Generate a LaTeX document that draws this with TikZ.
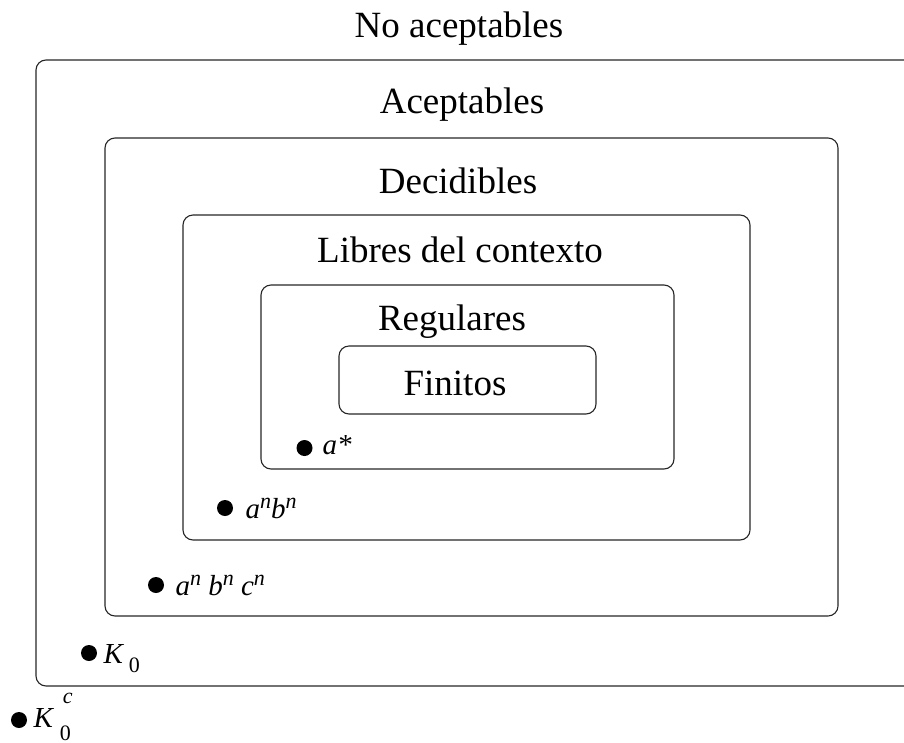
\documentclass[tikz,border=0pt]{standalone}
\usepackage{fontspec}
\setmainfont{Liberation Serif}
\usepackage{tikz}

% small raised / lowered pieces for the set labels
\newcommand{\upx}[2][10pt]{\raisebox{#1}{\fontsize{22}{26}\selectfont\itshape #2}}
\newcommand{\dnx}[2][-9pt]{\raisebox{#1}{\fontsize{22}{26}\selectfont\upshape #2}}

\begin{document}
\begin{tikzpicture}[x=1pt, y=-1pt, line width=1.1pt, line join=round,
  setbox/.style={draw=black!85, rounded corners=10pt},
  title/.style={anchor=base, inner sep=0pt, font=\fontsize{37}{43}\selectfont},
  elem/.style={circle, fill=black, inner sep=0pt, minimum size=16pt},
  elemtxt/.style={anchor=base west, inner sep=0pt, font=\fontsize{29}{35}\selectfont\itshape}]

  %% ════ nested classes ════
  \draw[setbox] (36,60) rectangle (930,686);
  \draw[setbox] (105,138) rectangle (838,616);
  \draw[setbox] (183,215) rectangle (750,540);
  \draw[setbox] (261,285) rectangle (674,469);
  \draw[setbox] (339,346) rectangle (596,414);

  %% ════ class names ════
  \node[title] (noacep) at (459,37) {No aceptables};
  \node[title] (acep)   at (462,113) {Aceptables};
  \node[title] (decid)  at (458,193) {Decidibles};
  \node[title] (libres) at (460,262) {Libres del contexto};
  \node[title] (regul)  at (452,330) {Regulares};
  \node[title] (finit)  at (455,395) {Finitos};

  %% ════ sample languages ════
  \node[elem] (dotastar) at (304.5,448) {};
  \node[elemtxt] (astar) at (322,454) {a*};

  \node[elem] (dotanbn) at (225,508) {};
  \node[elemtxt] (anbn) at (245,518) {a\upx{n}b\upx{n}};

  \node[elem] (dotanbncn) at (156,585) {};
  \node[elemtxt] (anbncn) at (175,595) {a\upx{n} b\upx{n} c\upx{n}};

  \node[elem] (dotkzero) at (89,653) {};
  \node[elemtxt] (kzero) at (103,663) {K\hspace{6pt}\dnx{0}};

  \node[elem] (dotkzeroc) at (19,720) {};
  \node[elemtxt] (kzeroc) at (33,727) {K\hspace{7pt}\rlap{\hspace{3pt}\upx[24pt]{c}}\dnx[-13pt]{0}};

  % fix the canvas to the reference size
  \pgfresetboundingbox
  \path[use as bounding box] (0,0) rectangle (904,742);
\end{tikzpicture}
\end{document}
